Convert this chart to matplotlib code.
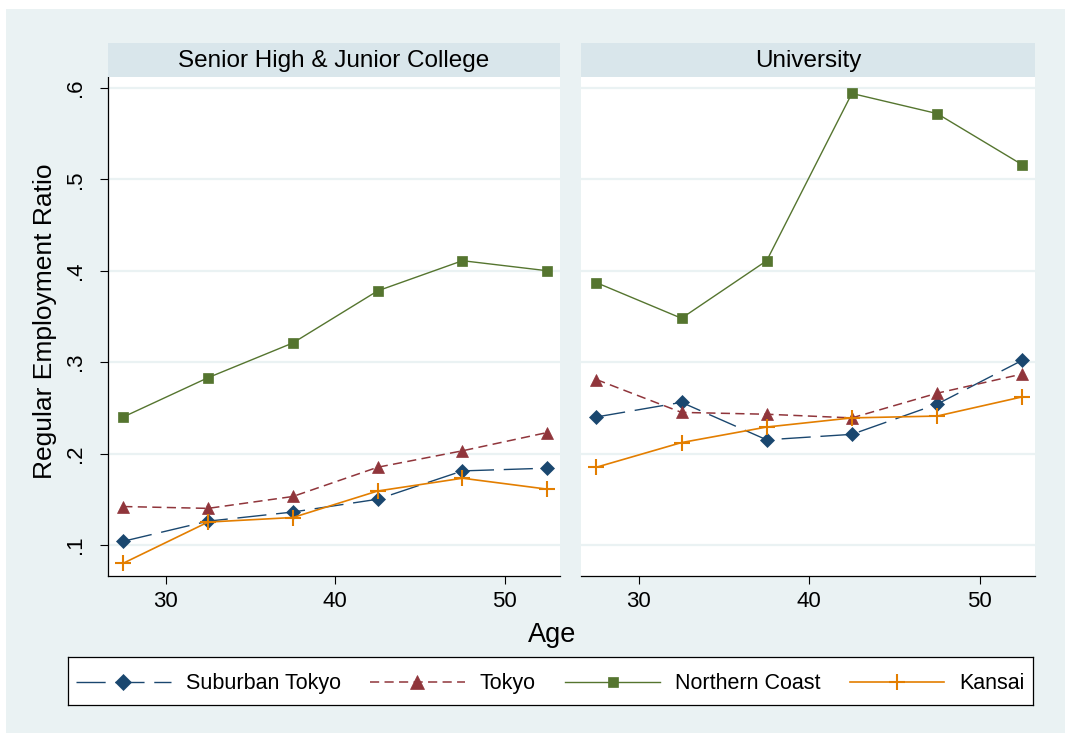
import matplotlib
matplotlib.use("Agg")
import matplotlib.pyplot as plt
from matplotlib.patches import Rectangle
from matplotlib.lines import Line2D

plt.rcParams['font.family'] = ['Liberation Sans', 'DejaVu Sans']

ages = [27.5, 32.5, 37.5, 42.5, 47.5, 52.5]
panels = ["Senior High & Junior College", "University"]

# Senior High & Junior College
hs_suburban = [0.104, 0.126, 0.136, 0.150, 0.181, 0.184]
hs_tokyo = [0.142, 0.140, 0.153, 0.185, 0.203, 0.223]
hs_northern = [0.240, 0.283, 0.321, 0.378, 0.411, 0.400]
hs_kansai = [0.080, 0.125, 0.130, 0.159, 0.173, 0.161]

# University
un_suburban = [0.240, 0.256, 0.215, 0.221, 0.254, 0.302]
un_tokyo = [0.281, 0.245, 0.243, 0.239, 0.266, 0.287]
un_northern = [0.387, 0.348, 0.411, 0.594, 0.572, 0.516]
un_kansai = [0.185, 0.212, 0.229, 0.239, 0.241, 0.262]

series_names = ["Suburban Tokyo", "Tokyo", "Northern Coast", "Kansai"]
yticks = [0.1, 0.2, 0.3, 0.4, 0.5, 0.6]
ytick_labels = [".1", ".2", ".3", ".4", ".5", ".6"]
xticks = [30, 40, 50]

data = [
    [hs_suburban, hs_tokyo, hs_northern, hs_kansai],
    [un_suburban, un_tokyo, un_northern, un_kansai],
]

styles = [
    dict(color="#1A476F", linestyle=(0, (21, 7)), marker="D", markersize=7.3, lw=1.0),
    dict(color="#90353B", linestyle=(0, (6, 3.5)), marker="^", markersize=9, lw=1.1),
    dict(color="#55752F", linestyle="-", marker="s", markersize=6.8, lw=1.0),
    dict(color="#E37E00", linestyle="-", marker="+", markersize=11, lw=1.2, mew=1.5),
]

W, H = 1065, 733
fig = plt.figure(figsize=(W / 100, H / 100), dpi=100)
fig.patch.set_facecolor("white")
bg = Rectangle((6 / W, 0), 1 - 6 / W, 1 - 9 / H,
               transform=fig.transFigure, facecolor="#EAF2F3", edgecolor="none", zorder=-10)
fig.patches.append(bg)

panel_x = [(108, 560), (581, 1035)]
ytop, ybot = 77, 576
strip_top = 43

for i, (x0, x1) in enumerate(panel_x):
    ax = fig.add_axes([x0 / W, 1 - ybot / H, (x1 - x0) / W, (ybot - ytop) / H])
    ax.set_facecolor("white")
    ax.set_xlim(26.6, 53.25)
    ax.set_ylim(0.066, 0.612)
    for y in yticks:
        ax.axhline(y, color="#EAF2F3", lw=1.6, zorder=0)
    for vals, st in zip(data[i], styles):
        ax.plot(ages, vals, color=st["color"], linestyle=st["linestyle"], lw=st["lw"],
                marker=st["marker"], markersize=st["markersize"],
                markeredgewidth=st.get("mew", 0.5), markeredgecolor=st["color"],
                zorder=3, clip_on=False)
    ax.set_xticks(xticks)
    ax.set_xticklabels([str(t) for t in xticks], fontsize=16)
    ax.tick_params(axis="x", length=6, width=0.8, pad=5, colors="black")
    for s in ["top", "right"]:
        ax.spines[s].set_visible(False)
    ax.spines["bottom"].set_linewidth(0.9)
    if i == 0:
        ax.set_yticks(yticks)
        ax.set_yticklabels(ytick_labels, fontsize=16, rotation=90, va="center")
        ax.tick_params(axis="y", length=6, width=0.8, pad=10)
        ax.spines["left"].set_linewidth(0.9)
    else:
        ax.set_yticks([])
        ax.spines["left"].set_visible(False)
    # strip
    sax = fig.add_axes([x0 / W, 1 - ytop / H, (x1 - x0) / W, (ytop - strip_top) / H])
    sax.set_facecolor("#D9E6EB")
    sax.set_xticks([]); sax.set_yticks([])
    for s in sax.spines.values():
        s.set_visible(False)
    sax.text(0.5, 0.47, panels[i], ha="center", va="center", fontsize=17.5,
             transform=sax.transAxes)

fig.text(552 / W, 1 - 635 / H, "Age", ha="center", va="center", fontsize=19.5)
fig.text(45 / W, 1 - 321 / H, "Regular Employment Ratio", ha="center", va="center",
         fontsize=19, rotation=90)

handles = [Line2D([0], [0], color=st["color"], linestyle=st["linestyle"], lw=st["lw"],
                  marker=st["marker"], markersize=st["markersize"] * 1.05,
                  markeredgewidth=st.get("mew", 0.5), markeredgecolor=st["color"])
           for st in styles]
leg_ax = fig.add_axes([68 / W, 1 - 705 / H, (1033 - 68) / W, (705 - 657) / H])
leg_ax.set_facecolor("white")
leg_ax.set_xticks([]); leg_ax.set_yticks([])
for s in leg_ax.spines.values():
    s.set_linewidth(0.9)
leg = leg_ax.legend(handles, series_names, loc="center", ncol=4, frameon=False,
                    fontsize=15.5, handlelength=4.4, columnspacing=1.36, handletextpad=0.7,
                    borderaxespad=0, borderpad=0, bbox_to_anchor=(0.5, 0.44))

fig.savefig("out.png", dpi=100, facecolor=fig.get_facecolor())
